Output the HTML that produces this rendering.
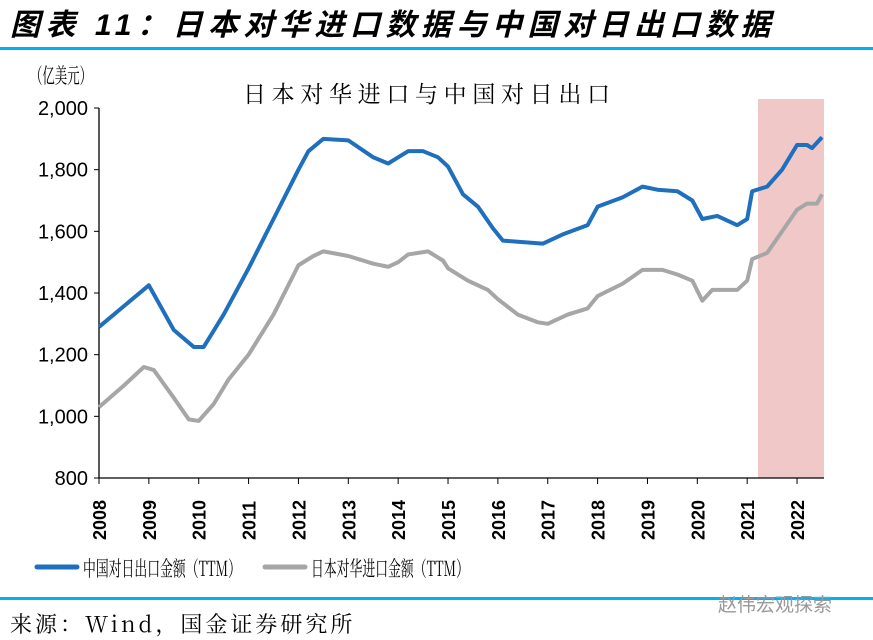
<!DOCTYPE html>
<html><head><meta charset="utf-8"><style>
body{margin:0;width:873px;height:640px;background:#fff;overflow:hidden;font-family:"Liberation Sans","Noto Sans CJK SC",sans-serif}
.t{position:absolute;white-space:nowrap}
</style></head><body>
<div class="t" style="left:10px;top:0px;font-size:30px;letter-spacing:5.5px;font-weight:bold;font-style:italic;font-family:'Liberation Sans','Noto Sans CJK SC',sans-serif">图表 11：日本对华进口数据与中国对日出口数据</div>
<div style="position:absolute;left:0;top:47px;width:873px;height:3px;background:#00b0f0"></div>
<div style="position:absolute;left:0;top:597px;width:873px;height:3px;background:#00b0f0"></div>
<div class="t" style="left:10px;top:608px;font-size:22px;letter-spacing:3px;font-family:'Noto Serif CJK SC',serif">来源：Wind，国金证券研究所</div>
<div class="t" style="left:718px;top:590px;font-size:19px;color:#999">赵伟宏观探索</div>
<svg id="chart" width="873" height="640" style="position:absolute;left:0;top:0"></svg>
<script>
const yTicks=[800,1000,1200,1400,1600,1800,2000];
const xYears=[2008,2009,2010,2011,2012,2013,2014,2015,2016,2017,2018,2019,2020,2021,2022];
const blueX=[2008,2009,2009.5,2009.9,2010.1,2010.5,2011,2011.5,2012,2012.2,2012.5,2013,2013.5,2013.8,2014,2014.2,2014.5,2014.8,2015,2015.3,2015.6,2015.9,2016.1,2016.5,2016.9,2017.3,2017.8,2018,2018.5,2018.9,2019.2,2019.6,2019.9,2020.1,2020.4,2020.8,2021,2021.1,2021.4,2021.7,2022,2022.2,2022.3,2022.5];
const blueY=[1290,1425,1280,1225,1225,1330,1480,1640,1800,1860,1900,1895,1840,1820,1840,1860,1860,1840,1810,1720,1680,1610,1570,1565,1560,1590,1620,1680,1710,1745,1735,1730,1700,1640,1650,1620,1640,1730,1745,1800,1880,1880,1870,1905];
const grayX=[2008,2008.5,2008.9,2009.1,2009.5,2009.8,2010,2010.3,2010.6,2011,2011.5,2012,2012.3,2012.5,2013,2013.5,2013.8,2014,2014.2,2014.6,2014.9,2015,2015.4,2015.8,2016,2016.4,2016.8,2017,2017.4,2017.8,2018,2018.5,2018.9,2019.3,2019.6,2019.9,2020.1,2020.3,2020.8,2021,2021.1,2021.4,2021.7,2022,2022.2,2022.4,2022.5];
const grayY=[1030,1100,1160,1150,1060,990,985,1040,1120,1200,1330,1490,1520,1535,1520,1495,1485,1500,1525,1535,1505,1480,1440,1410,1380,1330,1305,1300,1330,1350,1390,1430,1475,1475,1460,1440,1375,1410,1410,1440,1510,1530,1600,1670,1690,1690,1720];
const NS='http://www.w3.org/2000/svg';
const svg=document.getElementById('chart');
const X=v=>99+(v-2008)*49.86, Y=v=>478-(v-800)*370/1200;
function mk(t,a){const e=document.createElementNS(NS,t);for(const k in a)e.setAttribute(k,a[k]);svg.appendChild(e);return e;}
let r=mk('rect',{x:758,y:99,width:66,height:379,fill:'#f0c8c8'});


let ax=mk('path',{d:`M99 108V478H824`,stroke:'#000',fill:'none','stroke-width':1.3});


yTicks.forEach(v=>{mk('line',{x1:94,x2:99,y1:Y(v),y2:Y(v),stroke:'#000'});
 let t=mk('text',{x:88,y:Y(v)+7,'text-anchor':'end','font-size':20,'font-family':'Liberation Sans'});t.textContent=v.toLocaleString('en-US');
 
 });
xYears.forEach(v=>{mk('line',{x1:X(v),x2:X(v),y1:478,y2:484,stroke:'#000'});
 let t=mk('text',{transform:`translate(${X(v)+7},540) rotate(-90)`,'font-size':18,'font-weight':'bold','font-family':'Liberation Sans'});t.textContent=v;
 
 });
function line(xs,ys,c,n){let p=mk('polyline',{points:xs.map((x,i)=>X(x)+','+Y(ys[i])).join(' '),fill:'none',stroke:c,'stroke-width':4,'stroke-linejoin':'round'});
 
 }
line(grayX,grayY,'#a6a6a6','series-japan-imports');
line(blueX,blueY,'#1f6fbf','series-china-exports');
let u=mk('text',{x:30,y:83,'font-size':21,'font-family':'Noto Serif CJK SC',textLength:62,lengthAdjust:'spacingAndGlyphs'});u.textContent='（亿美元）';


let ct=mk('text',{x:243,y:102,'font-size':23,'font-family':'Noto Serif CJK SC',textLength:367});ct.textContent='日本对华进口与中国对日出口';


[[37,'#1f6fbf','中国对日出口金额（TTM）','legend-china-exports'],[265,'#a6a6a6','日本对华进口金额（TTM）','legend-japan-imports']].forEach(([x,c,s,n])=>{
 let g=mk('g',{});
 
 let l=document.createElementNS(NS,'line');[['x1',x],['x2',x+40],['y1',567],['y2',567],['stroke',c],['stroke-width',5],['stroke-linecap','round']].forEach(a=>l.setAttribute(a[0],a[1]));g.appendChild(l);
 let t=document.createElementNS(NS,'text');t.setAttribute('x',x+46);t.setAttribute('y',576);t.setAttribute('font-size',21);t.setAttribute('textLength',158);t.setAttribute('lengthAdjust','spacingAndGlyphs');t.setAttribute('font-family','Noto Serif CJK SC');t.textContent=s;g.appendChild(t);});
</script>
</body></html>
